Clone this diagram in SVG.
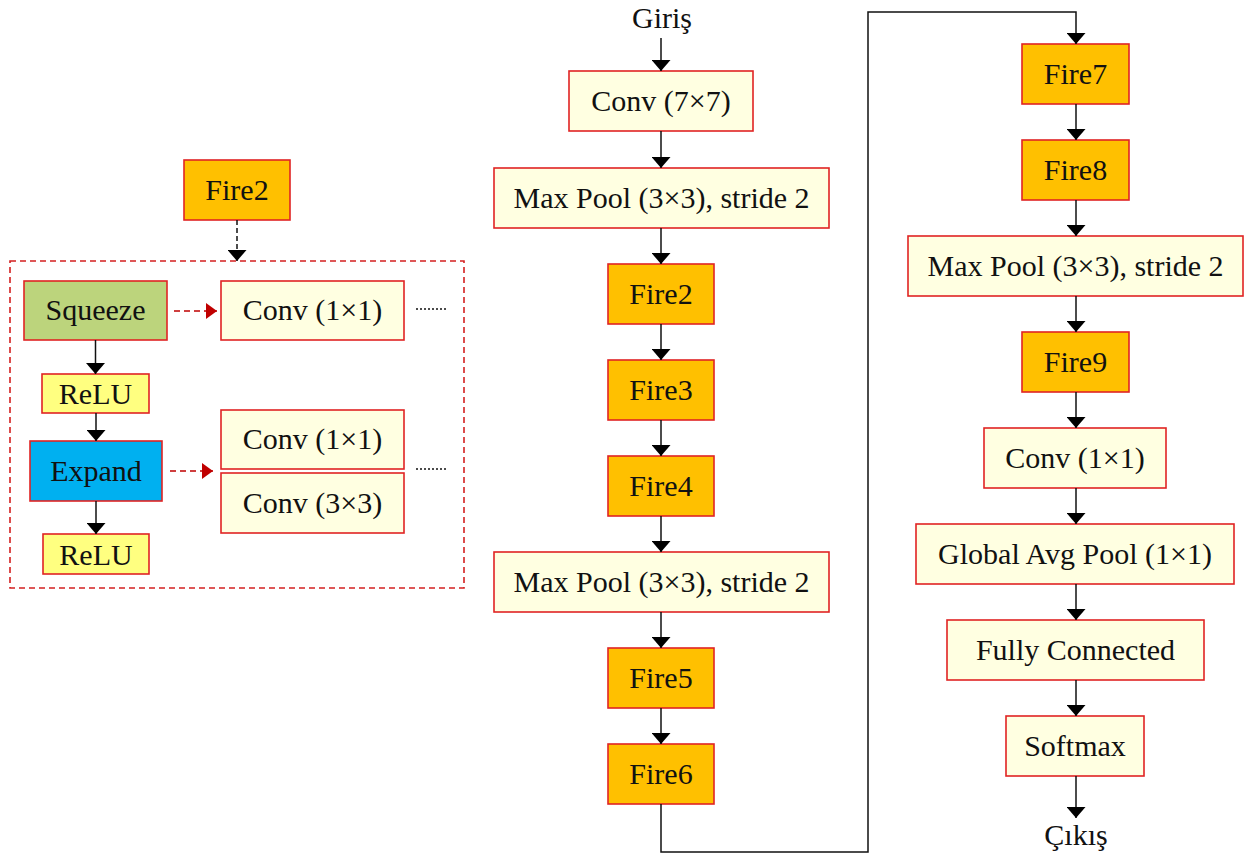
<svg xmlns="http://www.w3.org/2000/svg" width="1246" height="855" viewBox="0 0 1246 855">
  <style>
    .box { stroke: #E02424; stroke-width: 1.6; }
    .fire { fill: #FFC000; }
    .layer { fill: #FFFFE1; }
    .relu { fill: #FFFF80; }
    .squeeze { fill: #BCD47C; }
    .expand { fill: #00B0F0; }
    text { font-family: "Liberation Serif", "Times New Roman", serif; font-size: 30px; fill: #111; text-anchor: middle; }
    .flow { fill: none; stroke: #111; stroke-width: 1.5; }
    .flow-arrow { marker-end: url(#arrow); }
    .link { fill: none; stroke: #C00000; stroke-width: 1.6; stroke-dasharray: 6 4; marker-end: url(#redArrow); }
    .dots { stroke: #111; stroke-width: 1.6; stroke-dasharray: 2 2; }
  </style>
  <defs>
    <marker id="arrow" markerUnits="userSpaceOnUse" markerWidth="11" markerHeight="19" viewBox="0 0 11 19" refX="11" refY="9.5" orient="auto">
      <path d="M0,0 L11,9.5 L0,19 z" fill="#000"/>
    </marker>
    <marker id="redArrow" markerUnits="userSpaceOnUse" markerWidth="11" markerHeight="16" viewBox="0 0 11 16" refX="11" refY="8" orient="auto">
      <path d="M0,0 L11,8 L0,16 z" fill="#C00000"/>
    </marker>
  </defs>

  <!-- Fire module detail -->
  <g id="fire-detail">
    <rect x="10" y="261" width="454" height="327" fill="none" stroke="#D42020" stroke-width="1.6" stroke-dasharray="6 4"/>
  </g>
  <g id="detail-fire2">
    <rect class="box fire" x="184" y="160" width="106" height="60"/>
    <text x="237" y="200">Fire2</text>
  </g>
  <g id="squeeze">
    <rect class="box squeeze" x="24" y="281" width="143" height="59"/>
    <text x="95.5" y="320">Squeeze</text>
  </g>
  <g id="squeeze-conv1">
    <rect class="box layer" x="221" y="281" width="183" height="59"/>
    <text x="312.5" y="320">Conv (1×1)</text>
  </g>
  <g id="relu1">
    <rect class="box relu" x="42" y="374" width="107" height="39"/>
    <text x="95.5" y="404">ReLU</text>
  </g>
  <g id="expand">
    <rect class="box expand" x="30" y="441" width="132" height="60"/>
    <text x="96" y="481">Expand</text>
  </g>
  <g id="expand-conv1">
    <rect class="box layer" x="221" y="410" width="183" height="59"/>
    <text x="312.5" y="449">Conv (1×1)</text>
  </g>
  <g id="expand-conv3">
    <rect class="box layer" x="221" y="473" width="183" height="60"/>
    <text x="312.5" y="513">Conv (3×3)</text>
  </g>
  <g id="relu2">
    <rect class="box relu" x="43" y="534" width="106" height="40"/>
    <text x="96" y="565">ReLU</text>
  </g>

  <!-- Main network -->
  <g id="input-label"><text x="662" y="28">Giriş</text></g>
  <g id="conv7">
    <rect class="box layer" x="569" y="71" width="184" height="60"/>
    <text x="661" y="111">Conv (7×7)</text>
  </g>
  <g id="maxpool1">
    <rect class="box layer" x="494" y="168" width="335" height="60"/>
    <text x="661.5" y="208">Max Pool (3×3), stride 2</text>
  </g>
  <g id="fire2">
    <rect class="box fire" x="608" y="264" width="106" height="60"/>
    <text x="661" y="304">Fire2</text>
  </g>
  <g id="fire3">
    <rect class="box fire" x="608" y="360" width="106" height="60"/>
    <text x="661" y="400">Fire3</text>
  </g>
  <g id="fire4">
    <rect class="box fire" x="608" y="456" width="106" height="60"/>
    <text x="661" y="496">Fire4</text>
  </g>
  <g id="maxpool2">
    <rect class="box layer" x="494" y="552" width="335" height="60"/>
    <text x="661.5" y="592">Max Pool (3×3), stride 2</text>
  </g>
  <g id="fire5">
    <rect class="box fire" x="608" y="648" width="106" height="60"/>
    <text x="661" y="688">Fire5</text>
  </g>
  <g id="fire6">
    <rect class="box fire" x="608" y="744" width="106" height="60"/>
    <text x="661" y="784">Fire6</text>
  </g>
  <g id="fire7">
    <rect class="box fire" x="1022" y="44" width="107" height="60"/>
    <text x="1075.5" y="84">Fire7</text>
  </g>
  <g id="fire8">
    <rect class="box fire" x="1022" y="140" width="107" height="60"/>
    <text x="1075.5" y="180">Fire8</text>
  </g>
  <g id="maxpool3">
    <rect class="box layer" x="908" y="236" width="335" height="60"/>
    <text x="1075.5" y="276">Max Pool (3×3), stride 2</text>
  </g>
  <g id="fire9">
    <rect class="box fire" x="1022" y="332" width="107" height="60"/>
    <text x="1075.5" y="372">Fire9</text>
  </g>
  <g id="conv1">
    <rect class="box layer" x="984" y="428" width="182" height="60"/>
    <text x="1075" y="468">Conv (1×1)</text>
  </g>
  <g id="gap">
    <rect class="box layer" x="916" y="524" width="318" height="60"/>
    <text x="1075" y="564">Global Avg Pool (1×1)</text>
  </g>
  <g id="fc">
    <rect class="box layer" x="947" y="620" width="257" height="60"/>
    <text x="1075.5" y="660">Fully Connected</text>
  </g>
  <g id="softmax">
    <rect class="box layer" x="1006" y="716" width="138" height="60"/>
    <text x="1075" y="756">Softmax</text>
  </g>
  <g id="output-label"><text x="1076" y="845">Çıkış</text></g>

  <!-- Connectors -->
  <g id="connectors">
    <line class="flow flow-arrow" x1="237" y1="220" x2="237" y2="261" stroke-dasharray="5 3"/>
    <line class="link" x1="174" y1="311" x2="217" y2="311"/>
    <line class="link" x1="170" y1="471" x2="213" y2="471"/>
    <line class="dots" x1="416" y1="309" x2="448" y2="309"/>
    <line class="dots" x1="416" y1="469" x2="448" y2="469"/>
    <line class="flow flow-arrow" x1="95.5" y1="340" x2="95.5" y2="374"/>
    <line class="flow flow-arrow" x1="96" y1="413" x2="96" y2="441"/>
    <line class="flow flow-arrow" x1="96" y1="501" x2="96" y2="534"/>

    <line class="flow flow-arrow" x1="661" y1="38" x2="661" y2="71"/>
    <line class="flow flow-arrow" x1="661" y1="131" x2="661" y2="168"/>
    <line class="flow flow-arrow" x1="661" y1="228" x2="661" y2="264"/>
    <line class="flow flow-arrow" x1="661" y1="324" x2="661" y2="360"/>
    <line class="flow flow-arrow" x1="661" y1="420" x2="661" y2="456"/>
    <line class="flow flow-arrow" x1="661" y1="516" x2="661" y2="552"/>
    <line class="flow flow-arrow" x1="661" y1="612" x2="661" y2="648"/>
    <line class="flow flow-arrow" x1="661" y1="708" x2="661" y2="744"/>
    <polyline class="flow flow-arrow" points="661,804 661,852 868,852 868,12 1076,12 1076,44"/>

    <line class="flow flow-arrow" x1="1076" y1="104" x2="1076" y2="140"/>
    <line class="flow flow-arrow" x1="1076" y1="200" x2="1076" y2="236"/>
    <line class="flow flow-arrow" x1="1076" y1="296" x2="1076" y2="332"/>
    <line class="flow flow-arrow" x1="1076" y1="392" x2="1076" y2="428"/>
    <line class="flow flow-arrow" x1="1076" y1="488" x2="1076" y2="524"/>
    <line class="flow flow-arrow" x1="1076" y1="584" x2="1076" y2="620"/>
    <line class="flow flow-arrow" x1="1076" y1="680" x2="1076" y2="716"/>
    <line class="flow flow-arrow" x1="1076" y1="776" x2="1076" y2="818"/>
  </g>
</svg>
